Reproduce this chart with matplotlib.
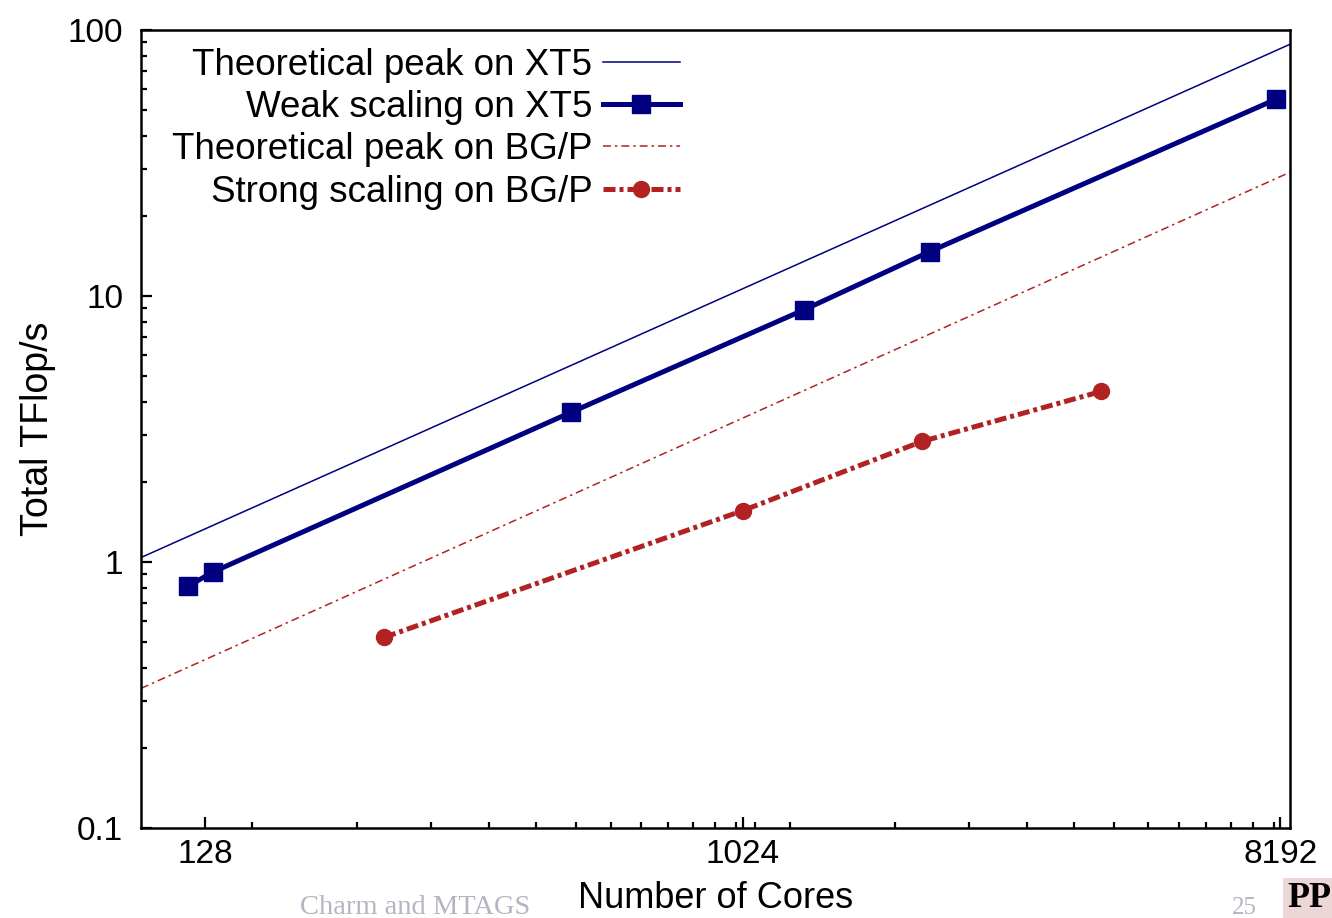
import matplotlib
matplotlib.use("Agg")
import matplotlib.pyplot as plt
from matplotlib.ticker import FixedLocator, NullFormatter, LogLocator

plt.rcParams['font.family'] = ['Liberation Sans', 'DejaVu Sans']

# theoretical peaks are straight lines, read at the two ends of the x range
peak_cores = [100, 8500]
xt5_peak = [1.04, 88.4]
bgp_peak = [0.335, 29.2]

weak_cores = [120, 132, 528, 1296, 2112, 8064]
weak_tflops = [0.812, 0.917, 3.66, 8.86, 14.7, 55.0]

strong_cores = [256, 1024, 2048, 4096]
strong_tflops = [0.521, 1.56, 2.84, 4.38]

xticks = [128, 1024, 8192]
xminor = [76.8 * k for k in range(2, 15)] + [614.4 * k for k in range(2, 14)]

navy = '#000080'
red = '#b22222'

fig = plt.figure(figsize=(13.32, 9.18), dpi=100)
ax = fig.add_axes([0.1059, 0.0980, 0.8626, 0.8693])

ax.plot(peak_cores, xt5_peak, color=navy, lw=1.1, label='Theoretical peak on XT5')
ax.plot(weak_cores, weak_tflops, color=navy, lw=3.6, marker='s', ms=12.5,
        label='Weak scaling on XT5')
ax.plot(peak_cores, bgp_peak, color=red, lw=1.1, ls=(0, (5.2, 2.6, 1.6, 2.6)),
        label='Theoretical peak on BG/P')
ax.plot(strong_cores, strong_tflops, color=red, lw=3.6, ls=(0, (2.4, 0.8, 0.8, 0.8)),
        marker='o', ms=11.5, label='Strong scaling on BG/P')

ax.set_xscale('log')
ax.set_yscale('log')
ax.set_xlim(100, 8500)
ax.set_ylim(0.1, 100)

ax.xaxis.set_major_locator(FixedLocator(xticks))
ax.set_xticklabels([str(t) for t in xticks])
ax.xaxis.set_minor_locator(FixedLocator(xminor))
ax.xaxis.set_minor_formatter(NullFormatter())
ax.yaxis.set_major_locator(FixedLocator([0.1, 1, 10, 100]))
ax.set_yticklabels(['0.1', '1', '10', '100'])
ax.yaxis.set_minor_locator(LogLocator(base=10, subs=range(2, 10)))
ax.yaxis.set_minor_formatter(NullFormatter())

ax.tick_params(which='both', direction='in', top=False, right=False, width=1.6)
ax.tick_params(which='major', length=8, labelsize=24)
ax.tick_params(axis='y', which='major', pad=13)
ax.tick_params(axis='x', which='major', pad=8)
ax.tick_params(which='minor', length=4)
for s in ax.spines.values():
    s.set_linewidth(1.8)

ax.set_xlabel('Number of Cores', fontsize=26, labelpad=8)
ax.set_ylabel('Total TFlop/s', fontsize=27, labelpad=8)

ax.legend(loc='upper right', bbox_to_anchor=(0.469, 0.978), frameon=False,
          markerfirst=False, fontsize=26.5, handlelength=2.1, handletextpad=0.28,
          labelspacing=0.2, borderpad=0, borderaxespad=0)

# slide footer
fig.text(0.225, 0.004, 'Charm and MTAGS', family='Liberation Serif', fontsize=20.5,
         color='#b4b4c4')
fig.text(0.925, 0.004, '25', family='Liberation Serif', fontsize=18, color='#b4b4c4')
fig.text(0.9995, 0.012, 'PP', family='Liberation Serif', fontsize=26, weight='bold',
         color='black', ha='right',
         bbox=dict(facecolor='#ecd6d6', edgecolor='none', pad=3))

fig.savefig('out.png', dpi=100)
